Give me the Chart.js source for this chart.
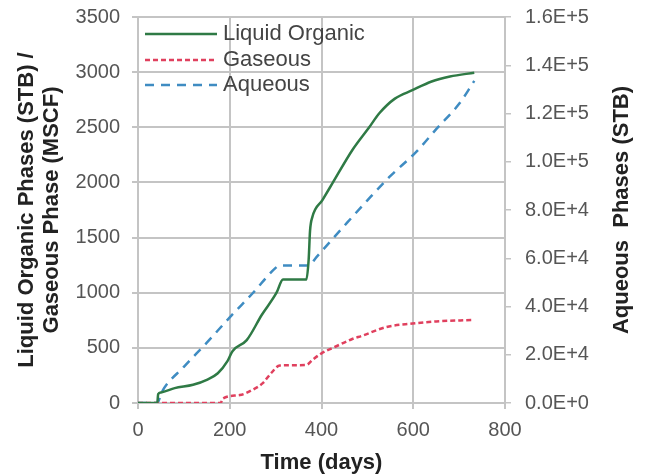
<!DOCTYPE html>
<html>
<head>
<meta charset="utf-8">
<script src="https://cdn.jsdelivr.net/npm/chart.js@4.4.1/dist/chart.umd.min.js"></script>
<style>
html, body { margin: 0; padding: 0; background: #fff; }
#wrap { width: 645px; height: 475px; position: relative; }
</style>
</head>
<body>
<div id="wrap"><canvas id="c"></canvas></div>
<script>
// values
const seriesNames = ['Liquid Organic', 'Gaseous', 'Aqueous'];

const liquidDays   = [0, 42, 44, 50, 80, 120, 150, 174, 195, 206, 237, 270, 302, 316, 367, 372, 375, 380, 402, 424, 467, 504, 526, 560, 598, 640, 680, 733];
const liquidValues = [0, 0, 80, 95, 135, 165, 210, 270, 380, 470, 570, 800, 1000, 1120, 1120, 1300, 1560, 1685, 1840, 1993, 2292, 2500, 2627, 2760, 2836, 2915, 2960, 2995];

const gasDays   = [0, 180, 185, 222, 250, 272, 290, 309, 367, 380, 400, 430, 467, 489, 541, 598, 650, 728];
const gasValues = [0, 0, 40, 72, 120, 180, 270, 340, 345, 390, 450, 510, 580, 610, 689, 720, 740, 752];

const aqDays   = [0, 42, 52, 100, 150, 200, 250, 300, 308, 372, 389, 450, 500, 548, 606, 650, 700, 733];
const aqValues = [0, 0, 4600, 15000, 25000, 35500, 45500, 56000, 57000, 57000, 60500, 73500, 84000, 93700, 104000, 113500, 124000, 133500];

const xTickValues  = [0, 200, 400, 600, 800];
const leftTicks    = [0, 500, 1000, 1500, 2000, 2500, 3000, 3500];
const rightTicks   = [0, 20000, 40000, 60000, 80000, 100000, 120000, 140000, 160000];

const toPoints = (xs, ys) => xs.map((x, i) => ({ x: x, y: ys[i] }));

const tickFont = { family: '"Liberation Sans", Arial, sans-serif', size: 20 };
const gridColor = '#c4c4c4';

const overlay = {
    id: 'overlay',
    afterDraw(chart) {
        const ctx = chart.ctx;
        const a = chart.chartArea;
        ctx.save();

        // legend inside the plot, top left
        const rows = [34, 60, 85];
        chart.data.datasets.forEach((ds, i) => {
            const y = rows[i];
            ctx.strokeStyle = ds.borderColor;
            ctx.lineWidth = ds.borderWidth;
            ctx.setLineDash(ds.borderDash || []);
            ctx.beginPath();
            ctx.moveTo(a.left + 7, y);
            ctx.lineTo(a.left + 79, y);
            ctx.stroke();
            ctx.setLineDash([]);
            ctx.fillStyle = '#444';
            ctx.font = '22px "Liberation Sans", Arial, sans-serif';
            ctx.textBaseline = 'middle';
            ctx.textAlign = 'left';
            ctx.fillText(ds.label, a.left + 85, y);
        });

        // axis titles
        ctx.fillStyle = '#222';
        ctx.font = 'bold 22px "Liberation Sans", Arial, sans-serif';
        ctx.textAlign = 'center';
        ctx.textBaseline = 'middle';
        const midY = (a.top + a.bottom) / 2;

        ctx.save();
        ctx.translate(27, midY);
        ctx.rotate(-Math.PI / 2);
        ctx.fillText('Liquid Organic Phases (STB) /', 0, 0);
        ctx.restore();

        ctx.save();
        ctx.translate(52, midY);
        ctx.rotate(-Math.PI / 2);
        ctx.fillText('Gaseous Phase (MSCF)', 0, 0);
        ctx.restore();

        ctx.save();
        ctx.translate(622, midY);
        ctx.rotate(-Math.PI / 2);
        ctx.fillText('Aqueous  Phases (STB)', 0, 0);
        ctx.restore();

        ctx.fillText('Time (days)', (a.left + a.right) / 2, 463);
        ctx.restore();
    }
};

const fitVertical = w => s => { s.width = w; s.paddingTop = 0; s.paddingBottom = 0; };

new Chart(document.getElementById('c'), {
    type: 'line',
    data: {
        datasets: [
            { label: seriesNames[0], data: toPoints(liquidDays, liquidValues), yAxisID: 'y',
              borderColor: '#2f7a45', borderWidth: 2.5, pointRadius: 0, cubicInterpolationMode: 'monotone' },
            { label: seriesNames[1], data: toPoints(gasDays, gasValues), yAxisID: 'y',
              borderColor: '#e0405e', borderWidth: 2.5, borderDash: [5, 3], pointRadius: 0, cubicInterpolationMode: 'monotone' },
            { label: seriesNames[2], data: toPoints(aqDays, aqValues), yAxisID: 'y2',
              borderColor: '#3f8cc2', borderWidth: 2.5, borderDash: [9, 7], pointRadius: 0, cubicInterpolationMode: 'monotone' }
        ]
    },
    options: {
        responsive: true,
        maintainAspectRatio: false,
        animation: false,
        layout: { padding: { top: 17, left: 0, right: 0, bottom: 0 } },
        plugins: { legend: { display: false }, tooltip: { enabled: false } },
        scales: {
            x: {
                type: 'linear', min: 0, max: 800,
                afterBuildTicks: s => { s.ticks = xTickValues.map(v => ({ value: v })); },
                afterFit: s => { s.height = 72; s.paddingLeft = 0; s.paddingRight = 0; },
                grid: { color: gridColor, lineWidth: 2, tickLength: 6 },
                border: { color: gridColor, width: 2 },
                ticks: { color: '#555', font: tickFont, padding: 9, maxRotation: 0 }
            },
            y: {
                position: 'left', min: 0, max: 3500,
                afterBuildTicks: s => { s.ticks = leftTicks.map(v => ({ value: v })); },
                afterFit: fitVertical(138),
                grid: { color: gridColor, lineWidth: 2, tickLength: 6 },
                border: { color: gridColor, width: 2 },
                ticks: { color: '#555', font: tickFont, padding: 12, callback: v => String(v) }
            },
            y2: {
                position: 'right', min: 0, max: 160000,
                afterBuildTicks: s => { s.ticks = rightTicks.map(v => ({ value: v })); },
                afterFit: fitVertical(140),
                grid: { drawOnChartArea: false, color: gridColor, lineWidth: 1.5, tickLength: 6 },
                border: { color: gridColor, width: 2 },
                ticks: { color: '#555', font: tickFont, padding: 14,
                         callback: v => v.toExponential(1).toUpperCase() }
            }
        }
    },
    plugins: [overlay]
});
</script>
</body>
</html>
